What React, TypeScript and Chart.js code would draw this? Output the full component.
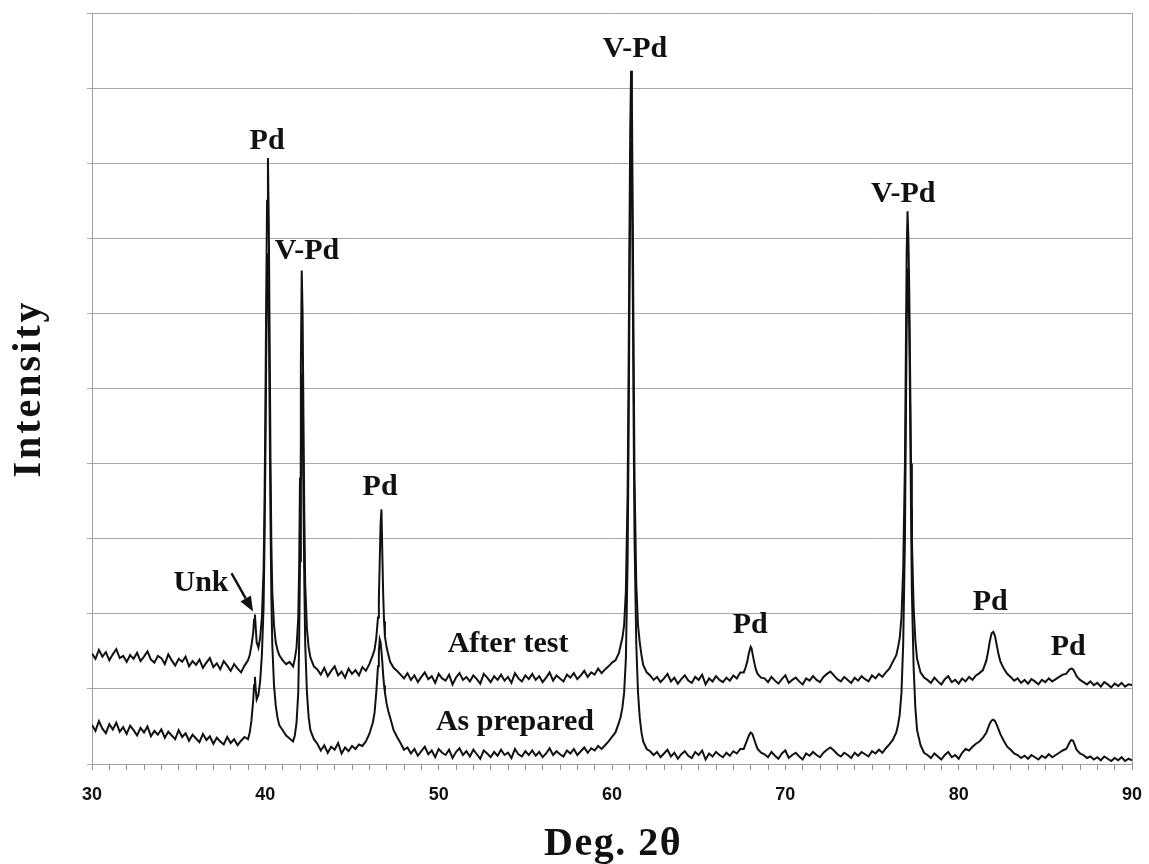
import React, { useEffect, useRef } from "react";
import { Chart, registerables } from "chart.js";

Chart.register(...registerables);

// 2θ angles (deg) shared by both patterns
const angles = [
  30.0,30.2,30.4,30.6,30.8,31.0,31.2,31.4,31.6,31.8,
  32.0,32.2,32.4,32.6,32.8,33.0,33.2,33.4,33.6,33.8,
  34.0,34.2,34.4,34.6,34.8,35.0,35.2,35.4,35.6,35.8,
  36.0,36.2,36.4,36.6,36.8,37.0,37.2,37.4,37.6,37.8,
  38.0,38.2,38.4,38.6,38.8,
  39.0,39.1,39.2,39.3,39.35,39.4,39.45,39.5,39.6,39.7,
  39.8,39.9,39.95,40.0,40.05,40.1,40.15,40.2,40.25,40.3,
  40.35,40.4,40.5,40.6,40.7,40.8,41.0,41.2,41.4,41.6,
  41.7,41.8,41.9,41.95,42.0,42.05,42.1,42.15,42.2,42.25,
  42.3,42.4,42.5,42.6,42.8,
  43.0,43.2,43.4,43.6,43.8,44.0,44.2,44.4,44.6,44.8,
  45.0,45.2,45.4,45.6,45.8,46.0,
  46.2,46.3,46.4,46.5,46.55,46.6,46.65,46.7,46.75,46.8,
  46.85,46.9,47.0,47.1,47.2,47.4,
  47.6,47.8,48.0,48.2,48.4,48.6,48.8,49.0,49.2,49.4,
  49.6,49.8,50.0,50.2,50.4,50.6,50.8,51.0,51.2,51.4,
  51.6,51.8,52.0,52.2,52.4,52.6,52.8,53.0,53.2,53.4,
  53.6,53.8,54.0,54.2,54.4,54.6,54.8,55.0,55.2,55.4,
  55.6,55.8,56.0,56.2,56.4,56.6,56.8,57.0,57.2,57.4,
  57.6,57.8,58.0,58.2,58.4,58.6,58.8,59.0,59.2,59.4,
  59.6,59.8,60.0,
  60.2,60.4,60.5,60.6,60.7,60.8,60.9,60.95,61.0,61.05,
  61.1,61.15,61.2,61.25,61.3,61.4,61.5,61.6,61.7,61.8,
  62.0,
  62.2,62.4,62.6,62.8,63.0,63.2,63.4,63.6,63.8,64.0,
  64.2,64.4,64.6,64.8,65.0,65.2,65.4,65.6,65.8,66.0,
  66.2,66.4,66.6,66.8,67.0,67.2,67.4,
  67.6,67.7,67.8,67.9,68.0,68.05,68.1,68.2,68.3,68.4,
  68.6,
  68.8,69.0,69.2,69.4,69.6,69.8,70.0,70.2,70.4,70.6,
  70.8,71.0,71.2,71.4,71.6,71.8,72.0,72.2,72.4,72.6,
  72.8,73.0,73.2,73.4,73.6,73.8,74.0,74.2,74.4,74.6,
  74.8,75.0,75.2,75.4,75.6,75.8,76.0,
  76.2,76.4,76.5,76.6,76.7,76.8,76.9,76.95,77.0,77.05,
  77.1,77.15,77.2,77.25,77.3,77.4,77.5,77.6,77.8,78.0,
  78.2,78.4,78.6,78.8,79.0,79.2,79.4,79.6,79.8,80.0,
  80.2,80.4,80.6,80.8,81.0,81.2,
  81.4,81.6,81.7,81.8,81.9,82.0,82.1,82.2,82.3,82.4,
  82.6,82.8,
  83.0,83.2,83.4,83.6,83.8,84.0,84.2,84.4,84.6,84.8,
  85.0,85.2,85.4,85.6,85.8,86.0,
  86.2,86.3,86.4,86.5,86.6,86.7,86.8,87.0,
  87.2,87.4,87.6,87.8,88.0,88.2,88.4,88.6,88.8,89.0,
  89.2,89.4,89.6,89.8,90.0,
];

// "After test" pattern (upper trace)
const afterTest = [
  1.47,1.40,1.52,1.43,1.49,1.38,1.46,1.53,1.41,1.44,
  1.36,1.45,1.40,1.48,1.37,1.43,1.50,1.39,1.35,1.44,
  1.41,1.33,1.46,1.38,1.31,1.40,1.36,1.43,1.30,1.37,
  1.32,1.39,1.28,1.35,1.41,1.29,1.34,1.26,1.37,1.31,
  1.24,1.33,1.27,1.22,1.31,
  1.38,1.45,1.58,1.75,1.92,1.99,1.80,1.62,1.55,1.68,
  1.95,2.60,3.40,4.60,6.20,7.50,8.07,7.20,5.60,4.00,
  2.90,2.30,1.85,1.62,1.52,1.45,1.38,1.33,1.36,1.30,
  1.40,1.55,1.95,2.60,3.80,5.30,6.57,6.00,4.60,3.30,
  2.40,1.80,1.55,1.42,1.30,
  1.26,1.19,1.28,1.17,1.24,1.30,1.18,1.23,1.15,1.27,
  1.20,1.25,1.18,1.29,1.24,1.33,
  1.45,1.52,1.68,1.95,2.20,2.70,3.20,3.39,2.80,2.25,
  1.90,1.70,1.55,1.45,1.36,1.28,
  1.24,1.19,1.14,1.21,1.12,1.18,1.09,1.16,1.22,1.13,
  1.17,1.08,1.20,1.14,1.11,1.19,1.06,1.15,1.21,1.12,
  1.16,1.10,1.18,1.13,1.07,1.20,1.15,1.09,1.17,1.12,
  1.19,1.11,1.16,1.08,1.21,1.14,1.10,1.18,1.13,1.20,
  1.12,1.17,1.09,1.15,1.22,1.11,1.18,1.14,1.10,1.19,
  1.15,1.21,1.13,1.18,1.24,1.16,1.22,1.19,1.27,1.21,
  1.26,1.30,1.35,
  1.38,1.48,1.58,1.68,1.85,2.30,3.60,5.00,6.80,8.40,
  9.23,8.80,7.20,5.40,3.80,2.40,1.85,1.62,1.45,1.32,
  1.22,
  1.18,1.12,1.16,1.09,1.14,1.20,1.10,1.15,1.07,1.13,
  1.18,1.11,1.08,1.16,1.12,1.19,1.06,1.14,1.10,1.17,
  1.12,1.09,1.15,1.11,1.18,1.14,1.22,
  1.22,1.28,1.36,1.48,1.56,1.54,1.48,1.36,1.26,1.20,
  1.15,
  1.14,1.09,1.16,1.11,1.07,1.13,1.18,1.08,1.12,1.15,
  1.10,1.06,1.14,1.11,1.17,1.12,1.09,1.16,1.20,1.23,
  1.18,1.13,1.10,1.16,1.12,1.08,1.15,1.11,1.17,1.13,
  1.10,1.18,1.14,1.20,1.16,1.22,1.27,
  1.36,1.45,1.55,1.68,1.95,2.60,4.00,5.40,6.80,7.36,
  7.00,6.30,5.20,4.00,3.00,2.10,1.65,1.40,1.22,1.15,
  1.12,1.08,1.15,1.10,1.06,1.13,1.17,1.09,1.12,1.07,
  1.14,1.10,1.16,1.12,1.18,1.21,
  1.25,1.38,1.50,1.64,1.74,1.76,1.70,1.58,1.46,1.37,
  1.27,1.20,
  1.16,1.11,1.14,1.08,1.12,1.07,1.13,1.10,1.06,1.12,
  1.09,1.14,1.10,1.13,1.16,1.19,
  1.20,1.23,1.26,1.27,1.26,1.22,1.17,1.12,
  1.09,1.06,1.10,1.05,1.08,1.03,1.09,1.06,1.02,1.07,
  1.04,1.08,1.03,1.06,1.05,
];

// "As prepared" pattern (lower trace)
const asPrepared = [
  0.52,0.44,0.57,0.47,0.41,0.53,0.46,0.55,0.43,0.49,
  0.40,0.51,0.45,0.38,0.48,0.42,0.50,0.37,0.44,0.39,
  0.46,0.35,0.43,0.38,0.33,0.45,0.36,0.41,0.31,0.39,
  0.34,0.29,0.40,0.32,0.37,0.27,0.35,0.30,0.26,0.36,
  0.28,0.33,0.25,0.31,0.36,
  0.33,0.42,0.58,0.85,1.05,1.16,0.98,0.86,0.92,1.10,
  1.45,2.10,2.90,4.00,5.40,6.40,6.80,6.10,4.60,3.20,
  2.20,1.60,1.05,0.78,0.62,0.52,0.45,0.38,0.34,0.30,
  0.38,0.55,0.95,1.60,2.70,4.10,5.20,4.80,3.50,2.40,
  1.60,0.95,0.62,0.45,0.33,
  0.27,0.18,0.25,0.15,0.23,0.19,0.28,0.14,0.22,0.17,
  0.24,0.20,0.26,0.24,0.30,0.40,
  0.55,0.68,0.95,1.30,1.50,1.66,1.62,1.50,1.35,1.18,
  1.05,0.95,0.80,0.70,0.62,0.45,
  0.36,0.28,0.19,0.22,0.14,0.20,0.11,0.17,0.23,0.13,
  0.18,0.09,0.20,0.15,0.12,0.19,0.08,0.16,0.21,0.12,
  0.17,0.10,0.19,0.13,0.07,0.18,0.14,0.09,0.16,0.11,
  0.19,0.12,0.15,0.08,0.20,0.13,0.10,0.17,0.12,0.18,
  0.11,0.16,0.09,0.14,0.21,0.12,0.17,0.13,0.10,0.18,
  0.14,0.20,0.12,0.17,0.22,0.15,0.21,0.18,0.24,0.20,
  0.25,0.30,0.36,
  0.42,0.55,0.63,0.75,0.95,1.40,2.70,4.10,5.90,7.50,
  8.30,7.90,6.30,4.50,3.00,1.60,0.95,0.62,0.42,0.30,
  0.20,
  0.17,0.12,0.16,0.09,0.14,0.19,0.10,0.15,0.07,0.13,
  0.17,0.11,0.08,0.16,0.12,0.18,0.06,0.14,0.10,0.16,
  0.12,0.09,0.15,0.11,0.17,0.14,0.20,
  0.20,0.26,0.32,0.38,0.42,0.41,0.40,0.33,0.26,0.20,
  0.15,
  0.13,0.09,0.16,0.11,0.07,0.14,0.18,0.08,0.12,0.15,
  0.10,0.06,0.14,0.11,0.16,0.12,0.09,0.15,0.19,0.22,
  0.18,0.13,0.10,0.15,0.12,0.08,0.15,0.11,0.16,0.13,
  0.10,0.17,0.14,0.19,0.15,0.21,0.26,
  0.32,0.42,0.52,0.66,0.95,1.60,3.00,4.40,5.80,6.60,
  6.40,5.80,4.70,3.40,2.30,1.30,0.75,0.45,0.25,0.15,
  0.12,0.08,0.14,0.10,0.06,0.12,0.16,0.09,0.12,0.07,
  0.15,0.20,0.18,0.23,0.27,0.30,
  0.35,0.42,0.48,0.54,0.58,0.59,0.57,0.52,0.46,0.40,
  0.31,0.23,
  0.19,0.14,0.12,0.08,0.11,0.07,0.12,0.09,0.06,0.11,
  0.08,0.13,0.09,0.12,0.15,0.18,
  0.20,0.24,0.29,0.32,0.31,0.25,0.19,0.14,
  0.12,0.08,0.10,0.06,0.09,0.05,0.10,0.07,0.04,0.08,
  0.05,0.09,0.04,0.07,0.05,
];

const xTickLabels = [30, 40, 50, 60, 70, 80, 90];
const xTitle = "Deg. 2θ";
const yTitle = "Intensity";

// Phase labels (text, anchor in data units)
const peakLabels = [
  { text: "Pd", x: 40.1, y: 8.29 },
  { text: "V-Pd", x: 42.4, y: 6.83 },
  { text: "Pd", x: 46.62, y: 3.68 },
  { text: "V-Pd", x: 61.33, y: 9.52 },
  { text: "Pd", x: 67.97, y: 1.85 },
  { text: "V-Pd", x: 76.8, y: 7.59 },
  { text: "Pd", x: 81.82, y: 2.15 },
  { text: "Pd", x: 86.32, y: 1.55 },
  { text: "Unk", x: 36.29, y: 2.41 },
];
const traceLabels = [
  { text: "After test", x: 54.0, y: 1.59 },
  { text: "As prepared", x: 54.4, y: 0.56 },
];
const unkArrow = { x0: 38.05, y0: 2.54, x1: 39.29, y1: 2.03 };

const SERIF = '"Liberation Serif", "Times New Roman", serif';

const labelPlugin = {
  id: "xrdLabels",
  afterDraw(chart: any) {
    const { ctx, chartArea, scales } = chart;
    const xs = scales.x;
    const ys = scales.y;
    ctx.save();
    // right border of plot frame
    ctx.strokeStyle = "#a0a0a0";
    ctx.lineWidth = 1;
    ctx.beginPath();
    ctx.moveTo(Math.round(chartArea.right) + 0.5, chartArea.top);
    ctx.lineTo(Math.round(chartArea.right) + 0.5, chartArea.bottom);
    ctx.stroke();

    ctx.fillStyle = "#111";
    ctx.textAlign = "center";
    ctx.textBaseline = "middle";
    ctx.font = `bold 30px ${SERIF}`;
    [...peakLabels, ...traceLabels].forEach((l) => {
      ctx.fillText(l.text, xs.getPixelForValue(l.x), ys.getPixelForValue(l.y));
    });

    // arrow for Unk
    const ax0 = xs.getPixelForValue(unkArrow.x0);
    const ay0 = ys.getPixelForValue(unkArrow.y0);
    const ax1 = xs.getPixelForValue(unkArrow.x1);
    const ay1 = ys.getPixelForValue(unkArrow.y1);
    const ang = Math.atan2(ay1 - ay0, ax1 - ax0);
    const headLen = 15;
    const headW = 6;
    const bx = ax1 - headLen * Math.cos(ang);
    const by = ay1 - headLen * Math.sin(ang);
    ctx.strokeStyle = "#111";
    ctx.lineWidth = 2.5;
    ctx.beginPath();
    ctx.moveTo(ax0, ay0);
    ctx.lineTo(bx, by);
    ctx.stroke();
    ctx.beginPath();
    ctx.moveTo(ax1, ay1);
    ctx.lineTo(bx + headW * Math.sin(ang), by - headW * Math.cos(ang));
    ctx.lineTo(bx - headW * Math.sin(ang), by + headW * Math.cos(ang));
    ctx.closePath();
    ctx.fill();

    // axis titles
    ctx.font = `bold 40px ${SERIF}`;
    (ctx as any).letterSpacing = "1.5px";
    ctx.fillText(xTitle, (chartArea.left + chartArea.right) / 2 + 1, 845);
    (ctx as any).letterSpacing = "3px";
    ctx.translate(30, (chartArea.top + chartArea.bottom) / 2);
    ctx.rotate(-Math.PI / 2);
    ctx.fillText(yTitle, 0, 0);
    ctx.restore();
  },
};

export default function App() {
  const ref = useRef<HTMLCanvasElement | null>(null);

  useEffect(() => {
    document.body.style.margin = "0";
    const canvas = ref.current;
    if (!canvas) return;
    const toPts = (ys: number[]) => angles.map((a, i) => ({ x: a, y: ys[i] }));
    const chart = new Chart(canvas, {
      type: "line",
      data: {
        datasets: [
          {
            label: "After test",
            data: toPts(afterTest),
            borderColor: "#111",
            borderWidth: 2,
            pointRadius: 0,
            tension: 0,
            fill: false,
          },
          {
            label: "As prepared",
            data: toPts(asPrepared),
            borderColor: "#111",
            borderWidth: 2,
            pointRadius: 0,
            tension: 0,
            fill: false,
          },
        ],
      },
      options: {
        responsive: false,
        animation: false,
        devicePixelRatio: 1,
        layout: { padding: { left: 0, right: 17, top: 13, bottom: 0 } },
        plugins: {
          legend: { display: false },
          tooltip: { enabled: false },
        },
        scales: {
          x: {
            type: "linear",
            min: 30,
            max: 90,
            afterFit: (s: any) => {
              s.height = 100;
              s.paddingLeft = 0;
              s.paddingRight = 0;
            },
            ticks: {
              stepSize: 1,
              autoSkip: false,
              maxRotation: 0,
              minRotation: 0,
              padding: 14,
              color: "#111",
              font: { family: '"Liberation Sans", Arial, sans-serif', size: 18, weight: "bold" },
              callback: (v: any) => (xTickLabels.includes(Number(v)) ? String(v) : ""),
            },
            grid: {
              drawOnChartArea: false,
              drawTicks: true,
              tickLength: 6,
              color: "#909090",
            },
            border: { display: true, color: "#a0a0a0" },
            title: { display: false },
          },
          y: {
            type: "linear",
            min: 0,
            max: 10,
            afterFit: (s: any) => {
              s.width = 92;
              s.paddingTop = 0;
              s.paddingBottom = 0;
            },
            ticks: { stepSize: 1, display: false },
            grid: {
              color: "#a8a8a8",
              drawTicks: true,
              tickLength: 5,
            },
            border: { display: true, color: "#a0a0a0" },
            title: { display: false },
          },
        },
      },
      plugins: [labelPlugin],
    });
    return () => chart.destroy();
  }, []);

  return (
    <div style={{ width: 1149, height: 864, background: "#fff" }}>
      <canvas ref={ref} width={1149} height={864} style={{ display: "block" }} />
    </div>
  );
}
